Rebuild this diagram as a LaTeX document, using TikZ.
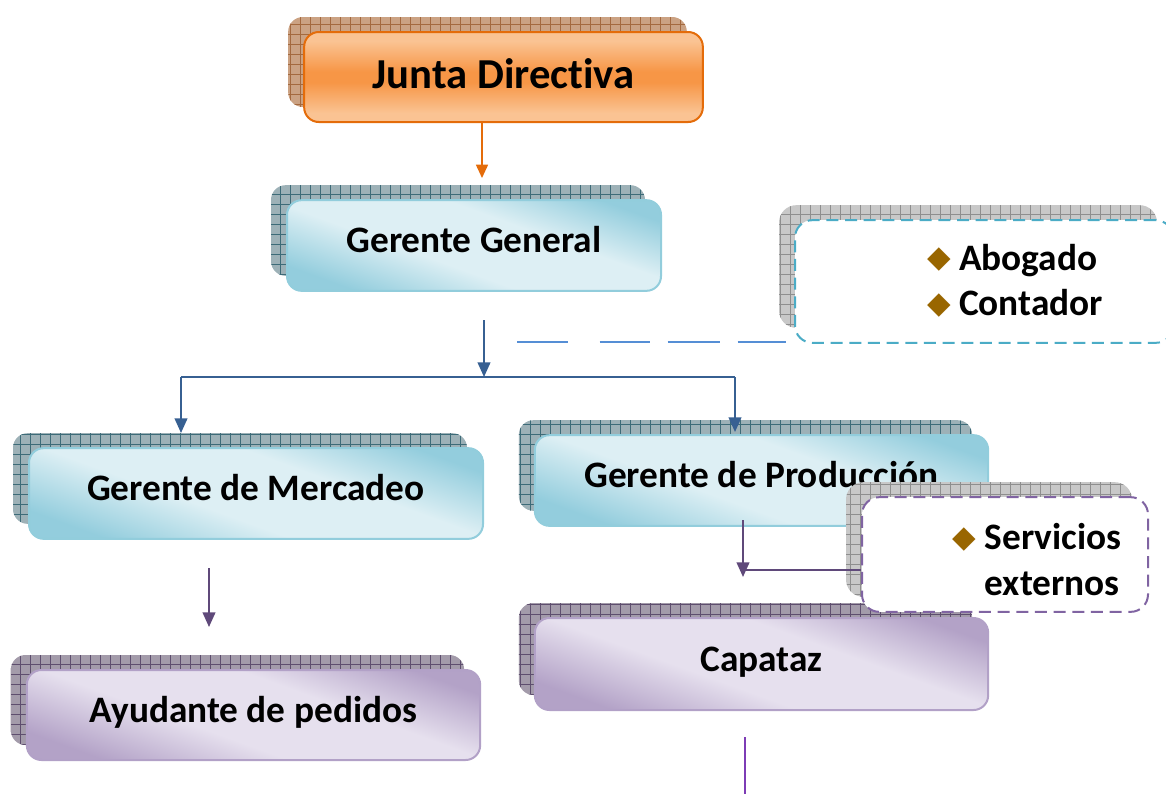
\documentclass[tikz,border=0pt]{standalone}
\usepackage{fontspec}
\setmainfont{Carlito}[Ligatures=NoCommon]
\newfontfamily\symfont{DejaVu Sans}
\usetikzlibrary{arrows.meta,shadows,patterns.meta}

\definecolor{orangefill}{HTML}{F79646}
\definecolor{orangelight}{HTML}{FAC393}
\definecolor{orangeline}{HTML}{E46C0A}
\definecolor{bluedark}{HTML}{93CDDD}
\definecolor{bluelight}{HTML}{DDEFF4}
\definecolor{blueline}{HTML}{92CDDC}
\definecolor{purpledark}{HTML}{B3A2C7}
\definecolor{purplelight}{HTML}{E6E0EE}
\definecolor{purpleline}{HTML}{B2A1C7}
\definecolor{shorange}{HTML}{CBA283}
\definecolor{shorangeline}{HTML}{A4693E}
\definecolor{shblue}{HTML}{9DB1B7}
\definecolor{shblueline}{HTML}{3D6B78}
\definecolor{shgray}{HTML}{C8C8C8}
\definecolor{shgrayline}{HTML}{8E8E8E}
\definecolor{shpurple}{HTML}{A39BAA}
\definecolor{shpurpleline}{HTML}{5E4E6E}
\definecolor{connblue}{HTML}{376092}
\definecolor{dashblue}{HTML}{558ED5}
\definecolor{teal}{HTML}{4BACC6}
\definecolor{connpurple}{HTML}{5F497A}
\definecolor{servline}{HTML}{8064A2}
\definecolor{violet}{HTML}{7D3CB5}
\definecolor{bulbrown}{HTML}{996600}

\pgfdeclareverticalshading{orangeshade}{100bp}{color(0bp)=(orangelight); color(30bp)=(orangelight); color(47bp)=(orangefill); color(53bp)=(orangefill); color(70bp)=(orangelight); color(100bp)=(orangelight)}
\pgfdeclareverticalshading{blueshade}{100bp}{color(0bp)=(bluedark); color(25bp)=(bluedark); color(42bp)=(bluelight); color(60bp)=(bluelight); color(76bp)=(bluedark); color(100bp)=(bluedark)}
\pgfdeclareverticalshading{purpleshade}{100bp}{color(0bp)=(purpledark); color(25bp)=(purpledark); color(42bp)=(purplelight); color(60bp)=(purplelight); color(76bp)=(purpledark); color(100bp)=(purpledark)}

\newcommand{\bul}{{\symfont\fontsize{23}{23}\selectfont\color{bulbrown}\raisebox{0.08em}{◆}}}

\begin{document}
\begin{tikzpicture}[x=0.75pt, y=-0.75pt,
    box/.style={rounded corners=11pt, line width=1.5pt, minimum height=68pt,
        text height=20pt, text depth=9.5pt,
        font=\fontsize{28}{34}\selectfont\bfseries},
    hatch/.style 2 args={general shadow={shadow xshift=-12pt, shadow yshift=11.25pt,
        fill=#1, postaction={pattern={Hatch[distance=7.5pt, angle=0, line width=0.55pt]},
        pattern color=#2}}},
    orangebox/.style={box, draw=orangeline, shading=orangeshade, hatch={shorange}{shorangeline}},
    bluebox/.style={box, draw=blueline, shading=blueshade, shading angle=-20, hatch={shblue}{shblueline}},
    purplebox/.style={box, draw=purpleline, shading=purpleshade, shading angle=-20, hatch={shpurple}{shpurpleline}},
    notebox/.style={rounded corners=13pt, line width=1.5pt, fill=white,
        dash pattern=on 9pt off 5pt, hatch={shgray}{shgrayline}},
    notetext/.style={align=left, inner sep=0pt,
        font=\fontsize{28}{34}\selectfont\bfseries},
    barrow/.style={line width=1.5pt, draw=connblue, -{Triangle[width=9.5pt, length=11pt]}},
    bline/.style={line width=1.5pt, draw=connblue},
    parrow/.style={line width=1.5pt, draw=connpurple, -{Triangle[width=9.5pt, length=11pt]}},
    pline/.style={line width=1.5pt, draw=connpurple}
]
    \clip (0,0) rectangle (1166,794);

    % boxes
    \node[orangebox, minimum width=299pt, minimum height=67.5pt, text height=24pt, text depth=6.4pt,
        font=\fontsize{32}{38}\selectfont\bfseries] (junta) at (503.5,77) {Junta Directiva};
    \node[bluebox, minimum width=280.5pt] (gg) at (474,245.5) {Gerente General};
    \node[notebox, draw=teal, minimum width=283.5pt, minimum height=92pt] (abog) at (984,281.5) {};
    \node[notetext] (abog text) at (1015,280.5) {\bul\ Abogado\\\bul\ Contador};
    \node[bluebox, minimum width=340.5pt] (merc) at (256,493.5) {Gerente de Mercadeo};
    \node[bluebox, minimum width=340pt] (prod) at (761.5,480.5) {Gerente de Producción};
    \node[purplebox, minimum width=340pt, minimum height=67.5pt] (ayud) at (253.5,715) {Ayudante de pedidos};
    \node[purplebox, minimum width=340pt, minimum height=69pt] (capa) at (761.5,664) {Capataz};
    \node[notebox, draw=servline, minimum width=214.5pt, minimum height=86pt] (serv) at (1005,554.5) {};
    \node[notetext] (serv text) at (1037,560) {\bul\ Servicios\\\phantom{\bul\ }externos};

    % connectors
    \coordinate (gg in) at (482,178);
    \coordinate (gg out) at (484,320);
    \coordinate (bar mid) at (484,377);
    \coordinate (bar left) at (181,377);
    \coordinate (bar right) at (735,377);
    \coordinate (merc in) at (181,433);
    \coordinate (prod in) at (735,432);
    \coordinate (dash start) at (517,342);
    \coordinate (prod out) at (743,520);
    \coordinate (capa in) at (743,577);
    \coordinate (serv join) at (743,570);
    \coordinate (merc out) at (209,568);
    \coordinate (ayud in) at (209,627);
    \coordinate (capa out) at (745,737);
    \coordinate (capa end) at (745,794);

    \draw[line width=1.2pt, draw=orangeline, -{Triangle[width=9pt, length=10pt]}] (junta.south -| gg in) -- (gg in);
    \draw[barrow] (gg out) -- (bar mid);
    \draw[bline] (bar left) -- (bar right);
    \draw[barrow] (bar left) -- (merc in);
    \draw[barrow] (bar right) -- (prod in);
    \draw[line width=1.5pt, draw=dashblue,
        dash pattern=on 38pt off 24pt on 37.5pt off 13.5pt on 39pt off 13.5pt on 36pt off 20pt] (dash start) -- (dash start -| abog.west);
    \draw[parrow] (prod out) -- (capa in);
    \draw[pline] (serv join) -- (serv join -| serv.west);
    \draw[parrow] (merc out) -- (ayud in);
    \draw[line width=1.8pt, draw=violet] (capa out) -- (capa end);
\end{tikzpicture}
\end{document}
